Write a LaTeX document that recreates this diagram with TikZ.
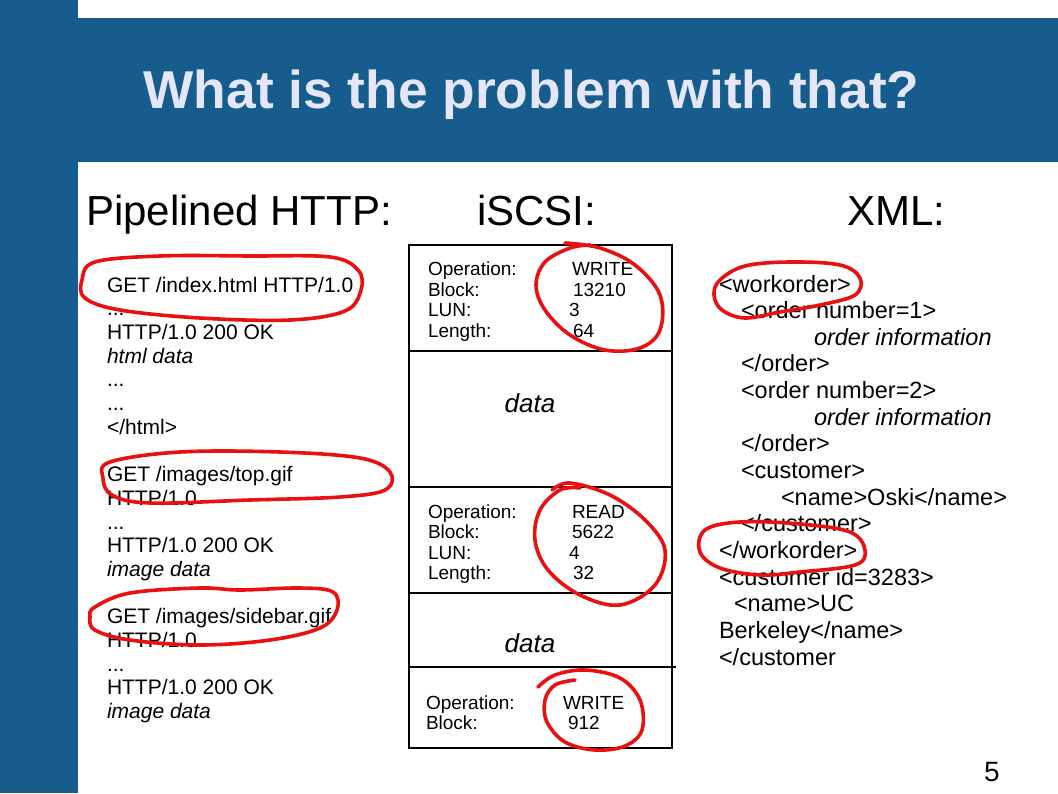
\documentclass[tikz,border=0pt]{standalone}
\usepackage{fontspec}
\setmainfont{Liberation Sans}
\definecolor{slideblue}{RGB}{22,93,141}
\definecolor{titlecol}{RGB}{230,230,250}
\definecolor{pen}{RGB}{232,16,16}
\begin{document}
\begin{tikzpicture}[x=1pt,y=-1pt,
  txt/.style={anchor=base west, inner sep=0pt, outer sep=0pt},
  http/.style={txt, font=\fontsize{21}{24}\selectfont},
  scsi/.style={txt, font=\fontsize{19}{22}\selectfont},
  xml/.style={txt, font=\fontsize{23.5}{27}\selectfont},
  head/.style={txt, font=\fontsize{42}{48}\selectfont},
  datalbl/.style={anchor=base, inner sep=0pt, font=\fontsize{26}{30}\selectfont\itshape},
  ring/.style={draw=pen, line width=3.6pt, line cap=round, line join=round},
  frame/.style={draw=black, line width=1.2pt}]
\useasboundingbox (0,0) rectangle (1058,793);
\fill[white] (0,0) rectangle (1058,793);
\fill[slideblue] (0,0) rectangle (78,793);
\fill[slideblue] (78,18) rectangle (1058,162);
\node[anchor=base, inner sep=0pt, text=titlecol, font=\fontsize{53.3}{60}\selectfont\bfseries] (title) at (531.5,108) {What is the problem with that?};

% headings
\node[head] (hhttp) at (86,225) {Pipelined HTTP:};
\node[head] (hscsi) at (477,225) {iSCSI:};
\node[head] (hxml) at (847,225) {XML:};

% HTTP column
\node[http] (h0) at (107,292) {GET /index.html HTTP/1.0};
\node[http] (h1) at (107,315.7) {...};
\node[http] (h2) at (107,339.4) {HTTP/1.0 200 OK};
\node[http] (h3) at (107,363.1) {\itshape html data};
\node[http] (h4) at (107,386.8) {...};
\node[http] (h5) at (107,410.5) {...};
\node[http] (h6) at (107,434.2) {</html>};
\node[http] (h8) at (107,481.6) {GET /images/top.gif};
\node[http] (h9) at (107,505.3) {HTTP/1.0};
\node[http] (h10) at (107,529) {...};
\node[http] (h11) at (107,552.7) {HTTP/1.0 200 OK};
\node[http] (h12) at (107,576.4) {\itshape image data};
\node[http] (h14) at (107,623.8) {GET /images/sidebar.gif};
\node[http] (h15) at (107,647.5) {HTTP/1.0};
\node[http] (h16) at (107,671.2) {...};
\node[http] (h17) at (107,694.9) {HTTP/1.0 200 OK};
\node[http] (h18) at (107,718.6) {\itshape image data};

% iSCSI column
\draw[frame] (409,245) rectangle (672,748);
\draw[frame] (409,351) -- (672,351);
\draw[frame] (409,487) -- (672,487);
\draw[frame] (409,593) -- (672,593);
\draw[frame] (409,667) -- (676,667);

\node[scsi] (a1) at (428,275.5) {Operation:};
\node[scsi] (a2) at (428,296) {Block:};
\node[scsi] (a3) at (428,316.5) {LUN:};
\node[scsi] (a4) at (428,337) {Length:};
\node[scsi] (av1) at (572,275.5) {WRITE};
\node[scsi] (av2) at (573,296) {13210};
\node[scsi] (av3) at (569,316.5) {3};
\node[scsi] (av4) at (573,337) {64};
\node[datalbl] (d1) at (530,412) {data};

\node[scsi] (b1) at (428,518) {Operation:};
\node[scsi] (b2) at (428,538.5) {Block:};
\node[scsi] (b3) at (428,559) {LUN:};
\node[scsi] (b4) at (428,579.5) {Length:};
\node[scsi] (bv1) at (572,518) {READ};
\node[scsi] (bv2) at (572,538.5) {5622};
\node[scsi] (bv3) at (569,559) {4};
\node[scsi] (bv4) at (573,579.5) {32};
\node[datalbl] (d2) at (530,652) {data};

\node[scsi] (c1) at (426,709) {Operation:};
\node[scsi] (c2) at (426,729.5) {Block:};
\node[scsi] (cv1) at (563,709) {WRITE};
\node[scsi] (cv2) at (568,729.5) {912};

% XML column
\node[xml] (x0) at (719,292) {<workorder>};
\node[xml] (x1) at (741,318.65) {<order number=1>};
\node[xml] (x2) at (814,345.3) {\itshape order information};
\node[xml] (x3) at (741,371.95) {</order>};
\node[xml] (x4) at (741,398.6) {<order number=2>};
\node[xml] (x5) at (814,425.25) {\itshape order information};
\node[xml] (x6) at (741,451.9) {</order>};
\node[xml] (x7) at (741,478.55) {<customer>};
\node[xml] (x8) at (781,505.2) {<name>Oski</name>};
\node[xml] (x9) at (741,531.85) {</customer>};
\node[xml] (x10) at (719,558.5) {</workorder>};
\node[xml] (x11) at (719,585.15) {<customer id=3283>};
\node[xml] (x12) at (734,611.8) {<name>UC};
\node[xml] (x13) at (719,638.45) {Berkeley</name>};
\node[xml] (x14) at (719,665.1) {</customer};

\node[anchor=base, inner sep=0pt, font=\fontsize{28}{32}\selectfont] (pnum) at (992,781) {5};

% red hand-drawn rings
\draw[ring] plot[smooth cycle, tension=0.6] coordinates {(95,262) (160,256) (250,256) (330,257) (358,270) (361,290) (345,311) (290,320) (200,318) (120,310) (85,298) (82,280)};
\draw[ring] plot[smooth cycle, tension=0.6] coordinates {(110,462) (180,452) (280,452) (360,458) (390,472) (385,490) (340,497) (250,500) (150,503) (112,495) (103,478)};
\draw[ring] plot[smooth cycle, tension=0.6] coordinates {(95,607) (130,593) (200,588) (240,590) (300,588) (333,592) (337,610) (320,628) (270,640) (200,645) (130,640) (95,630) (90,617)};
\draw[ring] plot[smooth, tension=0.6] coordinates {(565,243) (600,248) (635,265) (660,295) (660,330) (640,348) (605,350) (570,335) (545,310) (536,285) (545,262) (570,248) (590,245)};
\draw[ring] plot[smooth, tension=0.6] coordinates {(552,490) (570,483) (610,495) (645,520) (665,550) (655,585) (620,605) (580,595) (548,570) (535,540) (540,510) (560,490) (580,488)};
\draw[ring] plot[smooth, tension=0.6] coordinates {(538,687) (555,675) (585,670) (620,678) (640,700) (642,730) (625,746) (595,750) (565,742) (547,722) (545,700) (555,685) (575,680)};
\draw[ring] plot[smooth cycle, tension=0.6] coordinates {(720,280) (745,266) (790,262) (840,265) (860,278) (855,295) (820,305) (780,312) (745,318) (722,310) (714,295)};
\draw[ring] plot[smooth cycle, tension=0.6] coordinates {(705,530) (740,522) (800,524) (850,532) (865,550) (855,565) (800,572) (760,575) (720,568) (700,552)};
\end{tikzpicture}
\end{document}
